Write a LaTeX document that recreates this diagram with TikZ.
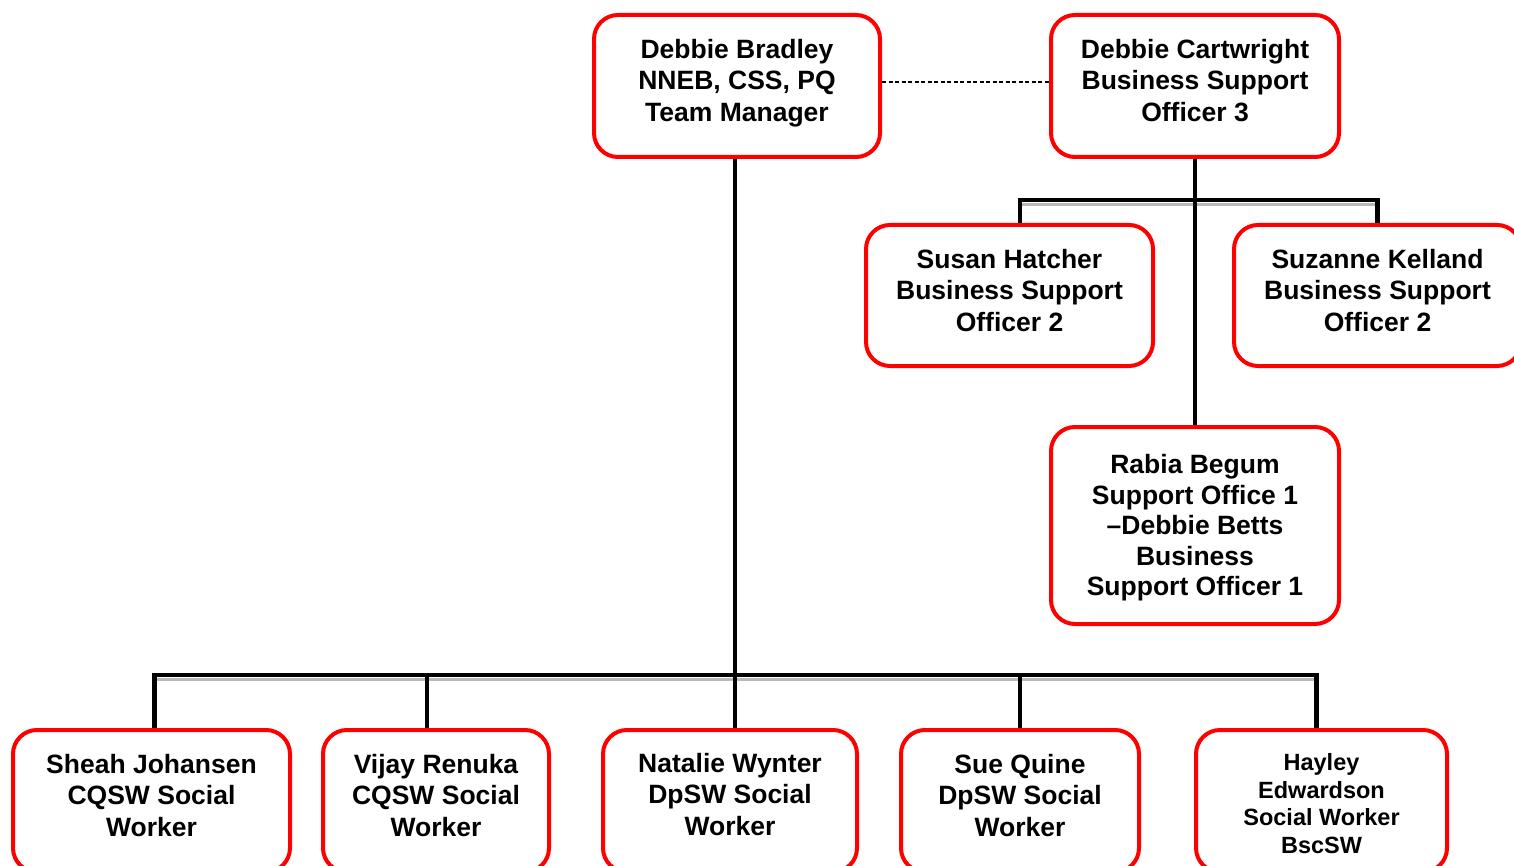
\documentclass[tikz,border=0pt]{standalone}
\usepackage{fontspec}
\setmainfont{Liberation Sans}
\begin{document}
\begin{tikzpicture}[x=1pt,y=-1pt,
  box/.style={draw=red,line width=4pt,rounded corners=24pt,fill=white},
  txt/.style={align=center,font=\bfseries\fontsize{26.5}{31.5}\selectfont,inner sep=0pt},
  txtr/.style={align=center,font=\bfseries\fontsize{26.5}{30.5}\selectfont,inner sep=0pt},
  txts/.style={align=center,font=\bfseries\fontsize{23.5}{27.5}\selectfont,inner sep=0pt},
  conn/.style={line width=4.5pt,black},
  shade/.style={line width=3.5pt,gray!55},
  dashconn/.style={line width=1.2pt,dash pattern=on 4pt off 2.5pt}]
\useasboundingbox (0,0) rectangle (1514,866);
% boxes
\node[box,minimum width=286pt,minimum height=142pt] (brad) at (737,86) {};
\node[box,minimum width=288pt,minimum height=142pt] (cart) at (1195,86) {};
\node[box,minimum width=287pt,minimum height=141pt] (hat) at (1009.5,295.5) {};
\node[box,minimum width=287pt,minimum height=141pt] (kel) at (1377.5,295.5) {};
\node[box,minimum width=288pt,minimum height=197pt] (rab) at (1195,525.5) {};
\node[box,minimum width=277pt,minimum height=142pt] (she) at (151.5,801) {};
\node[box,minimum width=226pt,minimum height=142pt] (vij) at (436,801) {};
\node[box,minimum width=254pt,minimum height=142pt] (nat) at (730,801) {};
\node[box,minimum width=238pt,minimum height=142pt] (sue) at (1020,801) {};
\node[box,minimum width=251pt,minimum height=142pt] (hay) at (1321.5,801) {};
% texts
\node[txt] (tbrad) at ([yshift=3pt]brad.center) {Debbie Bradley\\NNEB, CSS, PQ\\Team Manager};
\node[txt] (tcart) at ([yshift=5.5pt]cart.center) {Debbie Cartwright\\Business Support\\Officer 3};
\node[txt] (that) at ([yshift=5pt]hat.center) {Susan Hatcher\\Business Support\\Officer 2};
\node[txt] (tkel) at ([yshift=5pt]kel.center) {Suzanne Kelland\\Business Support\\Officer 2};
\node[txtr] (trab) at ([yshift=-2.5pt]rab.center) {Rabia Begum\\Support Office 1\\–Debbie Betts\\Business\\Support Officer 1};
\node[txt] (tshe) at ([yshift=5.5pt]she.center) {Sheah Johansen\\CQSW Social\\Worker};
\node[txt] (tvij) at ([yshift=5.5pt]vij.center) {Vijay Renuka\\CQSW Social\\Worker};
\node[txt] (tnat) at ([yshift=6.5pt]nat.center) {Natalie Wynter\\DpSW Social\\Worker};
\node[txt] (tsue) at ([yshift=5.5pt]sue.center) {Sue Quine\\DpSW Social\\Worker};
\node[txts] (thay) at ([yshift=-2.5pt]hay.center) {Hayley\\Edwardson\\Social Worker\\BscSW};
% bus coordinates
\coordinate (busA) at (0,200);
\coordinate (busB) at (0,675);
% shading under buses
\draw[shade] ([xshift=2pt,yshift=-4.5pt]she.north |- busB) -- ([xshift=-3pt,yshift=-4.5pt]hay.north |- busB);
\draw[shade] ([xshift=12pt,yshift=-4.5pt]hat.north |- busA) -- ([xshift=2pt,yshift=-4.5pt]kel.north |- busA);
% dashed link
\draw[dashconn] ([yshift=4pt]brad.east) -- ([yshift=4pt]cart.west);
% Cartwright tree
\draw[conn] (cart.south) -- (rab.north);
\draw[conn] ([xshift=10.5pt]hat.north) -- ([xshift=10.5pt]hat.north |- busA) -- (kel.north |- busA) -- (kel.north);
% Bradley tree
\draw[conn] ([xshift=-2pt]brad.south) -- ([xshift=-2pt]brad.south |- nat.north);
\draw[conn] ([xshift=3pt]she.north) -- ([xshift=3pt]she.north |- busB) -- ([xshift=-5pt]hay.north |- busB) -- ([xshift=-5pt]hay.north);
\draw[conn] ([xshift=-9pt]vij.north) -- ([xshift=-9pt]vij.north |- busB);
\draw[conn] (sue.north) -- (sue.north |- busB);
\end{tikzpicture}
\end{document}
